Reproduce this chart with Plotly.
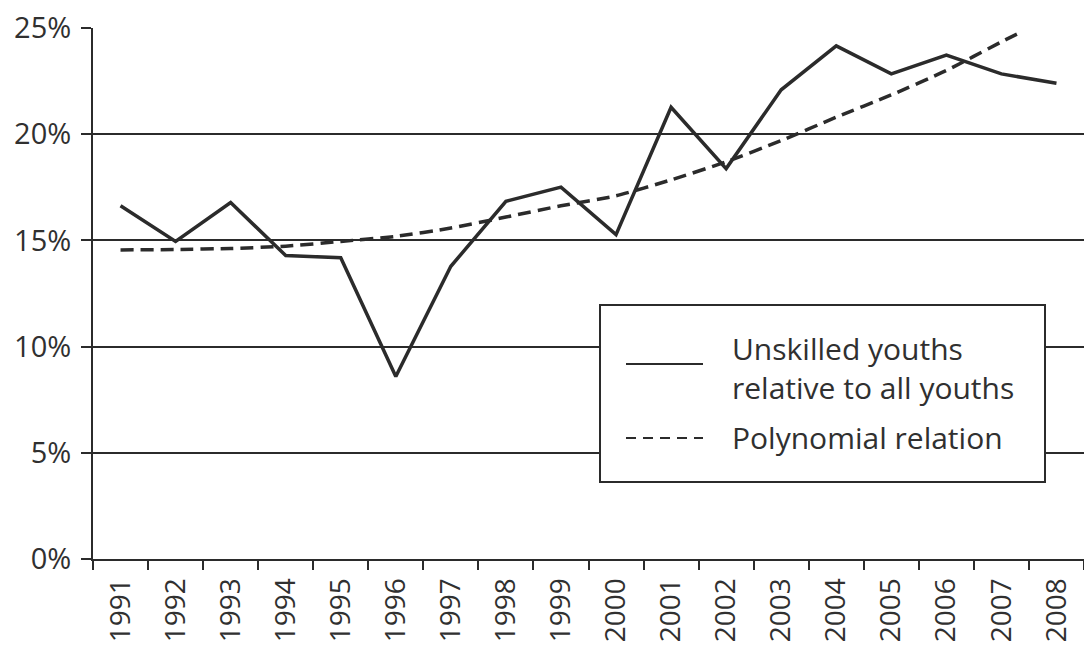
import plotly.graph_objects as go

years = [1991, 1992, 1993, 1994, 1995, 1996, 1997, 1998, 1999, 2000,
         2001, 2002, 2003, 2004, 2005, 2006, 2007, 2008]
unskilled_share = [16.63, 14.95, 16.78, 14.29, 14.18, 8.59, 13.78, 16.84, 17.51, 15.27,
                   21.27, 18.38, 22.09, 24.16, 22.84, 23.72, 22.84, 22.40]

poly_years = [1991, 1992, 1993, 1994, 1995, 1996, 1997, 1998, 1999, 2000,
              2001, 2002, 2003, 2004, 2005, 2006, 2007, 2007.35]
poly_values = [14.55, 14.57, 14.62, 14.73, 14.95, 15.19, 15.58, 16.10, 16.63, 17.10,
               17.85, 18.70, 19.70, 20.80, 21.85, 23.00, 24.35, 24.80]

y_ticks = [0, 5, 10, 15, 20, 25]
y_tick_labels = ["0%", "5%", "10%", "15%", "20%", "25%"]

legend_labels = ["Unskilled youths<br>relative to all youths", "Polynomial relation"]

INK = "#2b2b2b"
TXT = "#303030"
FONT = "Open Sans"

fig = go.Figure()
fig.add_trace(go.Scatter(
    x=years, y=unskilled_share, mode="lines",
    name="Unskilled youths relative to all youths",
    line=dict(color=INK, width=3.5),
))
fig.add_trace(go.Scatter(
    x=poly_years, y=poly_values, mode="lines",
    name="Polynomial relation",
    line=dict(color=INK, width=3.5, dash="13px,7px", shape="spline", smoothing=0.6),
))

W, H = 1084, 650
L, R, T, B = 93, 0, 28, 91

fig.update_layout(
    width=W, height=H,
    margin=dict(l=L, r=R, t=T, b=B, autoexpand=False),
    paper_bgcolor="white", plot_bgcolor="white",
    showlegend=False,
    font=dict(family=FONT, color=TXT),
    xaxis=dict(
        range=[1990.5, 2008.5], automargin=False,
        tickmode="array", tickvals=years, ticktext=[str(y) for y in years],
        tickangle=-90, ticks="", showgrid=False, zeroline=False,
        showline=True, linecolor=INK, linewidth=2,
        tickfont=dict(size=28, color=TXT, family=FONT),
        ticklabelstandoff=6,
        minor=dict(tickmode="linear", tick0=1990.5, dtick=1, ticks="outside",
                   ticklen=9, tickwidth=2, tickcolor=INK, showgrid=False),
    ),
    yaxis=dict(
        range=[0, 25], automargin=False,
        tickmode="array", tickvals=y_ticks, ticktext=y_tick_labels,
        ticks="outside", ticklen=10, tickwidth=2, tickcolor=INK,
        showgrid=True, gridcolor=INK, gridwidth=1.8, zeroline=False,
        showline=True, linecolor=INK, linewidth=2,
        tickfont=dict(size=29, color=TXT, family=FONT),
        ticklabelstandoff=4,
    ),
)

# manual legend box (pixel positions converted to paper fractions)
pw, ph = W - L - R, H - T - B
def px(xp):
    return (xp - L) / pw
def py(yp):
    return (H - B - yp) / ph

fig.add_shape(type="rect", xref="paper", yref="paper",
              x0=px(600), x1=px(1045), y0=py(482), y1=py(305),
              fillcolor="white", line=dict(color=INK, width=2), layer="above")
fig.add_shape(type="line", xref="paper", yref="paper",
              x0=px(626), x1=px(703), y0=py(364), y1=py(364),
              line=dict(color=INK, width=2), layer="above")
fig.add_shape(type="line", xref="paper", yref="paper",
              x0=px(626), x1=px(703), y0=py(438), y1=py(438),
              line=dict(color=INK, width=2, dash="10px,7px"), layer="above")
fig.add_annotation(xref="paper", yref="paper", x=px(730), y=py(368),
                   text=legend_labels[0], showarrow=False, xanchor="left", yanchor="middle",
                   align="left", font=dict(size=30, color=TXT, family=FONT))
fig.add_annotation(xref="paper", yref="paper", x=px(730), y=py(437),
                   text=legend_labels[1], showarrow=False, xanchor="left", yanchor="middle",
                   align="left", font=dict(size=30, color=TXT, family=FONT))

fig.write_html(
    "out.html",
    config={"displayModeBar": False},
    post_script="document.body.style.margin='0';document.body.style.overflow='hidden';",
)
